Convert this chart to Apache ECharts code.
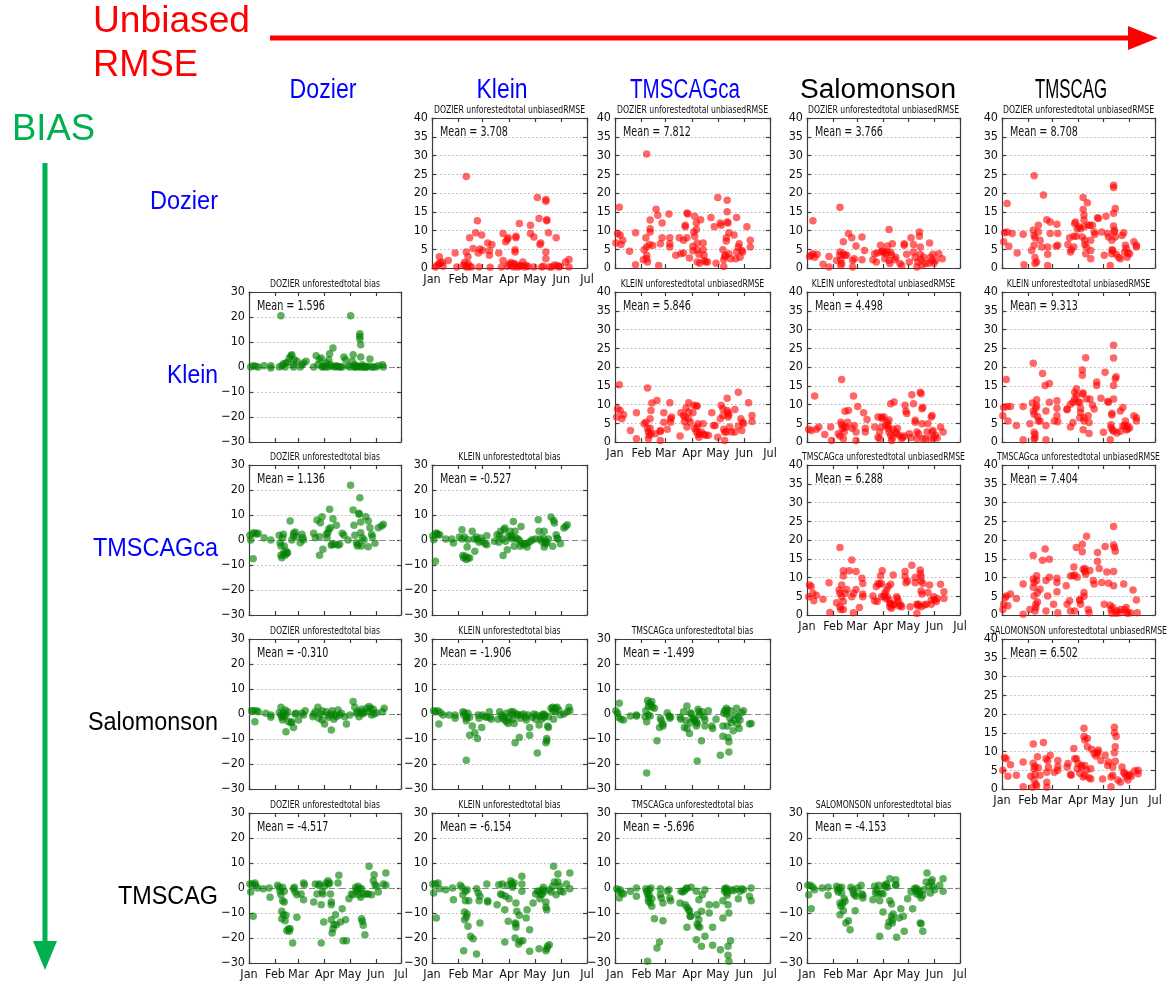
<!DOCTYPE html>
<html>
<head>
<meta charset="utf-8">
<script src="https://cdn.jsdelivr.net/npm/echarts@6/dist/echarts.min.js"></script>
<style>
html,body{margin:0;padding:0;background:#fff;}
#chart{width:1168px;height:982px;}
</style>
</head>
<body>
<div id="chart"></div>
<script>
// ---- names and axis ticks ----
const methodTitles = ['DOZIER', 'KLEIN', 'TMSCAGca', 'SALOMONSON', 'TMSCAG'];
const methodNames = ['Dozier', 'Klein', 'TMSCAGca', 'Salomonson', 'TMSCAG'];
const monthDays = [0, 31, 59, 90, 120, 151, 181];           // day of year at month start
const monthLabels = ['Jan', 'Feb', 'Mar', 'Apr', 'May', 'Jun', 'Jul'];
const rmseRange = [0, 40, 5];
const biasRange = [-30, 30, 10];

// ---- grid cells: [row, column] ----
const rmseCells = [[0,1],[0,2],[0,3],[0,4],[1,2],[1,3],[1,4],[2,3],[2,4],[3,4]];
const biasCells = [[1,0],[2,0],[2,1],[3,0],[3,1],[3,2],[4,0],[4,1],[4,2],[4,3]];
const rmseMeans = [3.708, 7.812, 3.766, 8.708, 5.846, 4.498, 9.313, 6.288, 7.404, 6.502];
const biasMeans = [1.596, 1.136, -0.527, -0.310, -1.906, -1.499, -4.517, -6.154, -5.696, -4.153];

// ---- unbiased RMSE samples: [day of year, value] ----
const rmseDozierVsKlein = [[4,0.3],[6,0.7],[8,1.2],[8.5,3],[10,1.3],[12,1.6],[13,0.5],[19,2],[27,4],[29,0.3],[37,0.8],[38,1.5],[39,0.5],[40,24.4],[40,4.3],[41,0.2],[42,3],[42,1.2],[44,8.1],[44,0.5],[46,0.3],[48,5.2],[51,9.4],[53,12.6],[54,4],[55,0.3],[56,5.1],[58,8.8],[59,4.7],[65,6.7],[67,4.7],[67,3.4],[68,0.2],[70,6.3],[78,4],[81,0.3],[83,9.2],[83,2],[86,7],[88,7.6],[89,8.1],[90,1],[94,1],[95,0.3],[97,4.9],[97,4.3],[98,8.1],[98,8.5],[100,0.3],[102,11.9],[104,0.7],[106,1.6],[108,0.3],[110,0.7],[115,11.4],[115,9.2],[119,8.3],[119,0.3],[123,18.8],[125,13.2],[126,6.3],[127,6.7],[128,0.3],[133,18.3],[133,17.8],[134,12.9],[134,12.6],[133,4.3],[133,2.5],[136,9.4],[137,0.3],[140,0.3],[145,8.1],[146,0.7],[148,0.3],[156,1.6],[160,2.3],[160,0.3],[88,0.5],[92,1.5],[96,1.2],[99,0.8],[103,0.5],[112,0.4],[130,0.5],[150,0.5],[143,0.8]];
const rmseDozierVsTMSCAGca = [[1,6.7],[3,9.2],[5,16.2],[6,8.8],[7,6.3],[9,7.4],[17,4.5],[24,9.4],[24,0.9],[33,2.2],[34,4.9],[37,30.4],[36,8.1],[37,5.6],[37,3.4],[37,2.5],[38,1.6],[40,6.3],[41,12.8],[41,10.5],[41,9.6],[44,6],[48,15.7],[50,14.1],[51,0.7],[53,6.5],[55,12],[55,8.1],[63,14.4],[64,8.1],[64,6.5],[64,5.6],[71,3.4],[75,8.1],[77,3.8],[80,7.4],[80,4],[82,11.4],[82,11],[84,8.1],[84,14.7],[85,14.4],[87,2.7],[91,5.8],[91,4.6],[92,9.6],[93,13.8],[93,8.5],[95,12],[95,10.3],[96,6.7],[96,4.9],[96,1.6],[98,3.7],[99,1.3],[100,12.9],[103,6.7],[103,4.9],[104,3.4],[104,2],[106,1.6],[108,1.6],[112,13.5],[116,11],[120,18.8],[118,1.3],[123,12],[124,11.4],[126,4.9],[127,2.2],[127,0.4],[128,3.1],[129,3.4],[130,8.1],[130,7.2],[131,18.1],[131,15],[131,12.3],[132,12],[133,9.4],[133,3.8],[135,2.5],[139,8.8],[142,13.5],[141,2.5],[142,4.3],[144,5.6],[145,6.5],[146,2.9],[148,4.7],[149,4.3],[154,11],[158,7.4],[158,5.6]];
const rmseDozierVsSalomonson = [[3,3.1],[5,3.4],[7,12.6],[7,3.8],[9,2.9],[12,3.7],[19,1],[26,3.1],[26,0.3],[35,2],[39,16.2],[39,4.3],[39,3.4],[40,2.2],[40,0.7],[41,1.2],[43,7],[43,3.8],[45,3.4],[47,3.4],[49,9.2],[53,8.1],[54,0.3],[54,2],[56,2.5],[58,5.9],[65,8.3],[65,2.2],[68,4.7],[78,2.2],[80,3.8],[82,1.6],[83,4],[87,6.1],[88,4.3],[91,4.3],[93,3.8],[95,5.9],[95,4.3],[97,10.3],[97,2],[98,1.2],[101,6.5],[104,2.2],[105,2.9],[110,1.2],[112,0.7],[115,6.1],[115,6.5],[118,3.7],[121,1.6],[123,8.1],[126,6.3],[126,4.3],[128,2.9],[130,0.3],[131,1.6],[133,9.6],[133,8.5],[134,5.6],[134,3.7],[135,2.2],[136,0.7],[138,2.9],[140,1.2],[144,1.3],[145,6.7],[146,2.9],[148,2],[149,3.7],[150,1.3],[152,2],[156,3.8],[160,2.5],[89,4.5],[92,2.5],[99,4.2],[100,3.5]];
const rmseDozierVsTMSCAG = [[2,7],[3,9.4],[6,17.2],[6,9.6],[8,5.8],[12,9.2],[18,4],[25,9],[26,0.9],[35,4.7],[38,24.6],[37,10.1],[38,8.7],[38,6.1],[39,8.1],[39,2.8],[39,1.2],[41,1.6],[43,11.4],[43,9.6],[45,7.4],[47,5.6],[49,19.5],[53,12.9],[54,5.6],[54,3.7],[54,0.7],[57,12.3],[57,9.2],[64,5.8],[65,11.7],[66,9.2],[66,6.1],[78,6.3],[80,8.1],[81,4.3],[82,4.9],[85,8.5],[85,5.6],[86,11.9],[87,12.3],[88,8.5],[89,10.5],[91,11],[93,10.5],[95,8.3],[96,18.8],[96,15.6],[97,14.1],[97,12.8],[97,11],[98,7.4],[98,6.3],[99,3.8],[100,5.6],[101,17.4],[102,11.4],[104,11.4],[105,7.4],[105,4.7],[105,2.5],[107,11.4],[109,9.6],[110,9],[113,13.4],[114,13.2],[118,9.6],[121,3.4],[123,13.8],[125,9.2],[126,8.3],[128,0.7],[130,4.9],[130,3.8],[130,7.4],[131,4.7],[132,22.1],[132,21.5],[132,14.6],[132,11.2],[133,10.1],[133,9.6],[134,15.9],[134,8.3],[135,3.7],[138,2.9],[140,2.5],[142,8.7],[144,9.4],[145,4.3],[146,6.1],[147,5.2],[148,2.9],[149,4],[151,3.8],[156,7],[159,6.1],[159,5.6]];
const rmseKleinVsTMSCAGca = [[2,6.7],[3,8.9],[5,15.3],[6,8.4],[8,6.2],[10,7.3],[18,3.1],[25,0.9],[25,7.8],[34,4.9],[36,5.3],[38,14.4],[38,3.6],[39,2.7],[39,0.9],[40,1.8],[41,3.7],[41,6.2],[42,8.4],[43,10.4],[42,2.2],[47,2.2],[49,11.1],[53,0.4],[53,3.1],[53,2.8],[57,7.8],[57,5.3],[61,3.4],[64,10.5],[65,6.2],[65,5.3],[66,6.7],[76,1.6],[77,7.8],[80,7.1],[81,5.5],[82,6.7],[83,9.1],[84,4],[86,10.5],[86,8],[86,6.2],[88,5.3],[91,7.8],[92,9.8],[93,3.6],[95,9.6],[95,2.8],[96,9.6],[96,4],[97,4.9],[97,2],[98,1.3],[99,2.2],[101,2.7],[103,4.9],[104,2],[106,1.8],[109,1.8],[113,7.8],[115,4.4],[117,4.4],[120,1.3],[123,6.2],[124,9.8],[126,7.1],[126,8.9],[127,3.4],[128,0.4],[128,2.7],[130,2.7],[131,11.7],[131,8.4],[132,7.8],[132,6.7],[133,7.3],[134,4],[136,2.7],[140,8.7],[140,2.7],[144,13.3],[144,4.3],[147,6.2],[148,3.1],[149,5.3],[150,4.9],[156,10.5],[160,7.1],[160,5.5]];
const rmseKleinVsSalomonson = [[2,3.4],[5,3.1],[9,12.3],[11,3.4],[14,4],[21,2],[28,4],[29,0.4],[37,2.2],[39,1.6],[40,5.3],[41,16.7],[41,4.6],[42,3.6],[43,0.9],[44,2.7],[44,4],[45,8.2],[46,4],[48,5.3],[49,8.4],[53,3.7],[55,12.3],[56,4.4],[58,2.7],[58,0.4],[60,9.5],[67,7.8],[69,3.7],[69,2.7],[71,6],[80,4],[84,6.7],[84,1.3],[86,0.9],[86,2.7],[88,6.7],[88,4],[89,6.2],[91,6.7],[93,4.4],[95,5.3],[96,4.4],[96,3.6],[97,5.9],[97,2.7],[99,10.2],[99,1.8],[100,0.4],[101,1.1],[102,3.4],[103,10.7],[105,2.7],[106,2.2],[107,3.7],[109,1.8],[112,0.9],[113,1.3],[115,1.6],[116,9.8],[117,8.2],[118,7.6],[121,2.2],[123,1.2],[124,12.6],[126,10.2],[128,5.8],[128,5.3],[130,2.7],[130,0.9],[132,2.2],[134,13.3],[135,12.9],[136,8.9],[137,9.3],[136,4.9],[137,0.9],[140,0.9],[142,2.7],[143,4.9],[146,0.9],[147,6.7],[148,7.1],[148,2.7],[149,3.1],[150,1.1],[152,1.8],[154,1.1],[158,4],[161,2.7]];
const rmseKleinVsTMSCAG = [[1,7],[2,9.2],[5,16.7],[6,9.5],[7,5.6],[10,9.5],[17,4.4],[25,9.5],[25,0.6],[33,4.9],[36,10.4],[37,21],[37,8.3],[38,7.4],[38,2.6],[38,0.8],[39,2],[39,1.1],[40,9],[41,11.3],[41,9.7],[42,6.8],[43,5.6],[45,5.6],[48,18.3],[51,15.1],[52,8.3],[52,4.4],[52,0.6],[56,15.6],[56,10.6],[62,5.6],[65,11],[65,9],[65,7],[66,5.4],[77,8.8],[77,8.6],[81,10.1],[81,4],[84,10.6],[84,5.2],[86,11.5],[86,13.3],[88,14.2],[88,12.4],[90,10.6],[92,6.5],[92,10.6],[93,7.9],[93,9],[95,17.8],[95,19.2],[95,12.8],[96,3.3],[96,13.1],[97,6.5],[97,5.6],[99,22.5],[100,11.5],[102,7],[103,5.2],[103,2.3],[104,11.5],[107,9.9],[109,8.8],[112,16],[112,15.1],[117,11.7],[120,2.6],[122,18.6],[125,10.8],[126,10.6],[128,0.6],[129,4.6],[129,3.8],[130,7.7],[130,7.2],[131,3.2],[132,25.8],[132,22.4],[132,11.5],[132,15.1],[132,2.9],[134,16.9],[135,17.4],[136,2.4],[140,2.9],[140,8.3],[143,9.2],[143,4.3],[145,4.4],[146,5.6],[147,3.2],[148,4.4],[149,3.5],[151,3.8],[156,7],[159,6.5],[159,5.6]];
const rmseTMSCAGcaVsSalomonson = [[2,4.9],[3,8],[5,7.6],[7,5.8],[8,3.8],[11,5.3],[19,4.2],[27,0.7],[26,8.6],[35,3.3],[39,18],[38,6.7],[39,2.2],[39,5.8],[40,1.5],[41,4.9],[41,8],[43,3.6],[43,1.5],[43,10.4],[43,11.8],[45,5.8],[47,6.8],[50,11.8],[53,14.7],[53,4.9],[55,0.6],[55,5.8],[58,6.8],[58,11.6],[62,2],[65,9.8],[66,8.4],[66,5.6],[66,4.9],[78,5.1],[80,3.8],[82,7.6],[83,3.6],[84,8.4],[86,8.2],[87,10.4],[88,4.9],[88,8.4],[89,11.8],[91,5.1],[92,5.8],[93,4.4],[94,6.7],[95,4.9],[96,7.6],[97,4],[98,3.1],[98,2.2],[99,8.2],[99,3.1],[100,1.8],[102,10.7],[102,2.7],[103,2.9],[106,4.9],[107,4.4],[108,3.6],[109,2.4],[111,2.7],[112,2.2],[116,11.6],[116,10.2],[117,8.6],[119,9.1],[122,2.2],[124,13.3],[128,10],[128,8.6],[130,0.4],[130,2.9],[131,2.4],[132,2.9],[134,11.1],[134,12],[135,10.2],[135,9.1],[135,6.4],[136,5.6],[135,2.2],[137,8.4],[139,2.7],[141,2.9],[143,6],[145,8],[147,4],[147,2.9],[150,4.9],[151,4],[153,3.6],[154,4.4],[158,8.2],[162,6.2],[162,4.4]];
const rmseTMSCAGcaVsTMSCAG = [[1,1.5],[2,2.9],[4,4.7],[5,5.1],[7,2.5],[10,5.6],[17,4.4],[25,8.3],[25,0.2],[33,1.5],[37,15.9],[37,9.6],[37,7.4],[38,8.7],[38,5.1],[39,1.1],[40,2.9],[40,2],[41,10.5],[41,9.2],[42,6],[42,3.5],[45,6.9],[48,14.6],[51,17.6],[52,9.2],[52,1.1],[54,5.1],[56,14.9],[56,10.1],[61,2.9],[65,9.8],[65,8.7],[65,6.2],[66,0.6],[76,7.8],[77,2.9],[80,3.8],[81,10.4],[81,1.1],[84,10.5],[85,12.8],[86,10.7],[86,1.1],[88,18],[89,10.1],[92,4.2],[92,3.8],[93,2.9],[95,18.9],[95,16.9],[96,12.2],[97,6],[97,5],[98,12.4],[98,11.6],[99,10.9],[100,21],[102,1.5],[103,0.6],[104,11.9],[108,9.2],[109,8.3],[113,16.7],[113,14.3],[115,12.4],[118,8.7],[121,2.9],[122,18.3],[124,11.5],[126,8.5],[128,2.6],[129,1.5],[130,0.5],[131,2],[132,23.6],[132,18.7],[132,11.6],[132,7.8],[133,18],[134,17],[135,0.5],[136,1.1],[139,0.6],[140,1.5],[144,8.3],[145,1.5],[147,0.6],[147,2],[149,0.5],[152,0.6],[155,6.7],[159,4],[160,0.6]];
const rmseSalomonsonVsTMSCAG = [[1,5],[3,8.4],[5,8.1],[7,3.4],[10,6.5],[17,3.7],[25,7.2],[25,0.6],[34,3.4],[36,0.5],[37,12],[37,6.9],[38,5.4],[38,2.4],[39,6],[39,3.9],[40,1.3],[41,0.8],[42,8.6],[43,5.7],[45,3.7],[49,12.4],[52,8.1],[53,4.5],[53,1.8],[53,0.5],[54,7.6],[55,5.8],[57,9],[62,4.5],[66,6],[66,7.6],[66,5],[77,5.9],[78,6.8],[81,3.9],[82,3.7],[85,10.8],[86,8.1],[88,8.1],[89,5.4],[90,6.8],[92,4.2],[94,5.9],[94,6.3],[96,3.2],[97,16.2],[97,14],[98,6.3],[98,13.1],[98,3.7],[100,5.1],[101,11.3],[101,13.5],[103,3],[105,5.4],[105,2.7],[106,10.6],[109,9.5],[111,8.8],[113,9.9],[113,9.5],[114,10.4],[117,7.6],[119,2.7],[122,9],[125,6.3],[126,7.2],[129,0.6],[129,3.2],[131,5.9],[131,3.7],[133,9.7],[133,16.5],[133,15],[134,11.3],[134,7.4],[135,14],[137,2.4],[140,1.8],[142,5.9],[144,4.5],[145,4.1],[147,3.2],[149,2.4],[149,3.7],[151,3.9],[153,3.4],[157,4.9],[161,4.1],[161,5]];

// ---- bias samples: [day of year, value] ----
const biasDozierVsKlein = [[2,0],[5,0.5],[8,0.3],[11,0],[18,0.5],[26,0.5],[26,-0.4],[36,0],[38,20.5],[39,0.5],[41,1.3],[43,0],[44,1.6],[46,1.9],[48,3.6],[50,4.5],[51,4.9],[53,0],[53,0.9],[54,2.9],[57,2.3],[61,0],[63,0.9],[65,1.6],[68,2.3],[77,0],[80,4.5],[82,0.9],[84,2.9],[86,3.6],[87,0],[90,0.5],[92,1.6],[94,0],[95,2.9],[96,5.3],[97,0.9],[100,7.6],[102,0],[104,0.5],[107,0],[111,0],[113,4],[115,2.9],[118,0.5],[120,0],[121,20.5],[123,2.3],[124,4.9],[126,0.9],[127,0],[129,0.3],[132,12.3],[132,13.3],[132,11.2],[133,8.9],[133,4],[134,0],[135,0.9],[137,0],[139,0],[142,0.3],[144,3.2],[146,0],[148,0],[151,0],[154,0.5],[159,0.9],[160,0],[88,0.2],[91,0],[99,0.3],[105,0.2],[109,0.1],[125,0],[128,0.2],[131,0],[136,0.2],[140,0]];
const biasDozierVsTMSCAGca = [[1,1.9],[2,0],[4,2.7],[5,-7.5],[7,2.9],[9,2.3],[11,2.7],[18,0.9],[26,0],[36,1.9],[37,-1.1],[38,-2.4],[38,-6.1],[39,-7.1],[40,0.9],[41,2.3],[41,-5.3],[42,-2.4],[43,-6.1],[44,-4.4],[45,-5.3],[46,-5.1],[49,7.6],[51,0],[53,1.6],[53,2.7],[55,3.2],[57,1.3],[61,-1.1],[63,2.3],[64,0.9],[65,0],[77,2.7],[79,0.9],[81,8],[84,1.3],[84,-6.1],[85,6.9],[87,9.3],[88,-3.7],[92,2.3],[93,0.9],[94,2.9],[95,4.3],[96,12.3],[97,4.9],[98,-2.1],[99,-1.7],[100,8.5],[102,-1.7],[104,5.9],[106,-2.1],[108,-1.7],[111,2.7],[113,1.9],[118,0],[121,21.9],[124,12],[125,5.9],[126,1.9],[128,-1.1],[129,-2.4],[130,-1.7],[131,10.7],[131,10.3],[132,16.9],[133,7.2],[133,2.9],[134,-2.4],[135,0.9],[137,0],[139,9.3],[142,-2.7],[142,7.6],[144,4.9],[146,2.3],[147,1.3],[150,-1.3],[154,4.9],[158,5.6],[160,6.3]];
const biasKleinVsTMSCAGca = [[1,1.7],[2,0.1],[4,-8.5],[5,2.8],[6,2.5],[7,2.1],[9,2.1],[16,0.4],[23,0.4],[25,-1.2],[32,1.2],[35,4.1],[35,0.4],[36,-6.2],[37,-7.2],[38,1.2],[39,-6.5],[40,-7.8],[41,-2.8],[42,0.1],[42,-7.2],[44,-7.2],[47,3.5],[49,0.4],[50,-4.5],[52,1.2],[53,0.1],[55,-0.9],[57,0.8],[59,-0.5],[62,-1.5],[64,1.7],[64,-1.9],[73,-0.5],[76,2.1],[78,-0.9],[79,1.7],[80,3.5],[82,0.4],[83,-6.2],[84,4.1],[85,4.8],[86,-0.5],[88,-3.9],[89,1.5],[91,3.5],[92,1.2],[93,1.7],[94,0.4],[95,7.4],[96,-2.5],[97,3.5],[98,0.8],[100,0.4],[102,-0.1],[103,-2.5],[104,5.4],[104,-1.2],[107,-1.9],[109,-1.5],[111,-2.8],[112,-1.2],[115,-0.5],[117,0.1],[121,0.4],[124,8.1],[125,3.5],[126,0.4],[128,-0.5],[130,0.8],[131,-2.8],[131,3.5],[132,-1.5],[133,-0.5],[134,-1.2],[136,0.4],[139,9.2],[141,-2.5],[142,7.8],[143,6.8],[145,2.1],[146,0.8],[147,0.4],[150,-1.5],[154,4.8],[156,5.4],[158,6.1]];
const biasDozierVsSalomonson = [[3,1.3],[5,1.3],[7,-3.1],[9,1.3],[11,0.9],[20,0.3],[26,-0.4],[26,-1.3],[36,0.5],[38,2.7],[38,-0.4],[39,-1.3],[40,-2.4],[41,0.3],[42,-1.1],[43,1.6],[44,-7.1],[44,-0.4],[46,0.9],[47,-3.1],[50,-3.5],[51,-3.1],[53,-5.4],[55,0],[56,0.3],[59,-2.4],[63,0.3],[65,-0.4],[67,1.3],[76,-1.1],[77,0],[79,0.9],[82,2.7],[83,-1.7],[85,0],[87,-2.4],[87,1.3],[90,-4],[92,0.9],[94,-0.4],[95,-1.3],[98,0],[98,-6.4],[99,1.3],[101,-2.1],[102,-0.4],[104,-1.1],[106,1.6],[108,-0.4],[110,0.3],[114,-1.1],[116,-4],[120,-0.4],[124,5],[126,2.7],[128,0.3],[129,0.9],[131,-1.1],[133,0.9],[134,1.9],[135,0],[137,0.5],[140,2.3],[142,0.9],[143,3],[145,2.3],[146,-0.4],[148,1.9],[149,0],[152,0.5],[159,0.9],[161,2.3]];
const biasKleinVsSalomonson = [[2,1.3],[4,0.9],[7,1.3],[8,-4],[10,0.5],[13,-0.4],[20,-0.4],[27,-0.4],[27,-1.7],[36,0.9],[37,-0.4],[38,0.5],[40,-1.7],[40,-18.5],[40,-2.7],[41,-1.1],[42,0.3],[44,-8.5],[44,-1.3],[47,-4.8],[50,-7.5],[53,-9.8],[54,-0.4],[55,-1.7],[58,-5.4],[59,-0.4],[62,-1.1],[64,-1.3],[67,0.9],[68,-1.3],[69,-2.1],[77,-2.1],[79,0.9],[81,-0.4],[82,-1.7],[84,-1.1],[85,-2.4],[87,-3.1],[87,0.3],[89,-3.8],[90,-1.7],[92,0.9],[94,0],[94,-2.1],[95,0.9],[96,-3.8],[97,-11.5],[99,0],[100,-0.4],[102,-9.4],[103,-1.7],[104,-0.4],[107,0],[109,-1.3],[110,-2.4],[112,-0.4],[114,-8.5],[114,-5.4],[117,-1.3],[119,0],[121,-2.1],[122,-0.4],[123,-15.6],[125,-4.4],[126,-1.1],[128,-2.1],[129,-0.4],[130,0],[131,-1.3],[132,-0.4],[133,-11.5],[134,-9.8],[134,-10.7],[135,-4.8],[136,-5.4],[136,-1.1],[139,2.3],[141,2.7],[141,1.3],[142,-2.1],[144,2.3],[144,0.9],[146,2.7],[148,1.6],[150,-0.4],[154,0],[158,0.9],[160,2.7],[161,1.3]];
const biasTMSCAGcaVsSalomonson = [[1,1.3],[3,0.3],[4,-1.3],[5,4.3],[7,-2.1],[10,-2.4],[18,-0.8],[25,-0.4],[25,-0.8],[35,-1.1],[36,1.3],[37,-3.1],[37,-23.6],[38,5.4],[39,3],[39,-0.4],[40,4.3],[41,-0.8],[42,3.6],[43,5],[44,2.7],[46,2.3],[49,-10.7],[52,-5.4],[53,-1.7],[54,-2.7],[56,-4],[56,-4.8],[61,0.5],[63,-0.8],[64,-1.7],[65,-1.1],[76,-1.3],[77,-2.1],[80,0.9],[81,-5.4],[83,-2.7],[84,3.2],[84,-5.8],[87,-7.8],[88,-3.5],[88,0.5],[89,0],[91,-1.7],[92,-2.1],[93,-2.4],[95,-3.1],[95,-4.8],[96,-3.8],[96,-18.8],[97,1.9],[98,0.9],[99,-0.4],[101,-10.7],[102,0.9],[104,-1.1],[105,-2.4],[105,-4.8],[109,1.3],[113,-4.8],[114,-5.8],[118,-2.1],[123,-16.5],[126,-8.9],[126,-4.8],[127,0.3],[128,1.3],[130,2.3],[130,0],[131,1.6],[131,-4.8],[132,-9.4],[133,-11.1],[133,-15.2],[134,-1.7],[135,1.3],[136,-3.5],[138,-6.7],[139,-2.4],[141,-0.4],[142,2.3],[143,-4],[144,-1.3],[145,-5.8],[146,-2.4],[148,0.5],[150,1.3],[157,-4],[159,-3.8]];
const biasDozierVsTMSCAG = [[1,1.6],[2,-1.6],[4,1.6],[5,-11.3],[7,2],[8,1.1],[10,0],[17,-0.3],[24,0],[25,-3.7],[34,1.1],[36,0.3],[37,-1.3],[38,-2.7],[39,-9.3],[39,-12.3],[40,0.3],[40,-5.1],[41,-10.7],[42,-1.3],[43,-13.1],[42,-5.6],[44,-10.9],[45,-17.1],[47,-16.3],[48,-17.3],[49,-16.3],[52,-22],[53,-0.3],[54,0.3],[55,-1.6],[57,-11.7],[57,-2.7],[62,-2.4],[65,-4.7],[65,2],[66,1.3],[77,-5.6],[79,1.6],[81,-2.4],[83,1.1],[84,1.6],[86,-6.7],[86,-22],[87,-1.6],[88,-2.4],[89,-13.6],[90,0.7],[92,2],[94,2.9],[95,1.6],[96,2],[97,-2.4],[98,-5.6],[98,-12.7],[99,-18],[98,-6.7],[100,-16.3],[101,-14.7],[103,-10.7],[104,-14.7],[106,2],[107,5.1],[109,-13.6],[111,-8.3],[112,-21.1],[115,-12.7],[116,-21.1],[119,-4.3],[122,-2.4],[124,-2.7],[127,0.3],[128,-0.7],[129,-1.3],[130,0.7],[131,-2.7],[132,-0.3],[133,-3.7],[134,-0.3],[134,-12.3],[135,-13.3],[136,-14.9],[137,-2.4],[138,-18.7],[140,-2.4],[142,-2.4],[143,8.7],[146,-2.7],[148,2.9],[149,5.3],[150,1.3],[152,0.7],[154,-1.6],[160,1.6],[163,6],[163,1.1]];
const biasKleinVsTMSCAG = [[1,1.6],[2,-2],[4,1.6],[5,-12],[7,2],[9,-0.3],[16,-0.7],[24,0],[25,-4.7],[33,1.1],[35,0.3],[36,-2.7],[37,-25.1],[38,-9.6],[38,-12.7],[39,-5.1],[39,-1.3],[40,-11.7],[41,-10.4],[41,-0.7],[42,-15.3],[43,-5.1],[45,-19.3],[48,-20.3],[52,-0.3],[52,-26.4],[54,-2],[55,-5.1],[56,-14],[56,-3.3],[64,1.6],[65,-5.1],[65,-5.6],[76,-6.7],[78,1.3],[80,-2.4],[82,1.6],[82,-2.7],[85,-21.6],[85,-8.7],[86,-3.3],[88,1.1],[89,-13.3],[90,-4.3],[92,2.9],[93,2],[94,1.1],[94,0.3],[96,2],[97,-14],[97,-20],[98,-14.4],[98,-6],[98,-15.7],[99,-9.3],[101,-22.4],[102,-10.9],[103,-21.3],[105,1.6],[105,4.7],[105,-1.3],[106,-21.1],[110,-12],[111,-8.7],[114,-25.3],[114,-16.7],[118,-6],[121,-2.4],[123,-1.3],[125,-24.3],[125,-1.3],[126,-4.3],[127,-2.7],[129,-0.7],[129,-2.4],[130,0.3],[131,-1.3],[133,-5.6],[133,-7.7],[134,-8.7],[133,-25.1],[134,-24.3],[135,-23.3],[137,-22.7],[137,-0.7],[139,-1.6],[141,0.7],[143,2.4],[142,8.7],[145,-2.7],[147,5.6],[147,2.4],[149,0.7],[150,-1.3],[153,-1.6],[157,1.6],[161,6],[161,-0.3]];
const biasTMSCAGcaVsTMSCAG = [[2,-0.3],[4,-1.3],[5,-4],[6,-0.7],[8,-2],[10,-2.4],[18,-1.3],[25,0],[25,-3.3],[36,-0.3],[37,-1.3],[38,-29.3],[38,-2.4],[39,-4],[39,-5.3],[40,-0.7],[40,-2.9],[41,-6],[42,0],[43,-4.3],[43,-7.3],[46,-12.3],[49,-24],[52,-21.6],[53,-0.3],[53,-2.7],[54,-4],[56,-6],[56,-13.1],[61,-1.3],[63,-0.7],[64,-4],[65,-5.1],[76,-6],[77,-1.3],[79,-1.6],[81,-1.1],[82,-6.7],[83,-0.3],[84,0],[84,-7.7],[84,-15.7],[86,-8.7],[87,-9.3],[88,-11.3],[88,-11.3],[89,0.3],[95,-1.3],[95,-20.7],[96,-10.7],[96,-14.4],[97,-15.3],[98,-12.7],[98,-4.7],[99,-15.7],[101,-23.3],[101,-9.3],[102,-2.7],[105,-0.7],[105,-19.3],[110,-6.7],[110,-10],[114,-15.7],[114,-22.9],[118,-6.7],[123,-24.7],[126,-5.1],[126,-12],[128,-0.3],[128,-1.3],[130,-0.7],[130,0],[131,-2],[131,-2.9],[132,-6.7],[132,-23.3],[132,-26.9],[133,-29.3],[133,-10],[135,-21.1],[136,-0.7],[138,-1.1],[142,-0.3],[144,-4.3],[146,-1.3],[148,-0.3],[150,-0.7],[157,-3.3],[159,-5.1],[159,0]];
const biasSalomonsonVsTMSCAG = [[1,1.1],[2,-2.7],[4,1.1],[5,-8.3],[7,0.3],[9,-0.7],[18,0],[25,0.3],[25,-2.9],[35,0.7],[36,-0.7],[37,-1.6],[38,0],[39,-6],[39,-10.7],[40,-7.3],[41,-2],[41,0.3],[42,-6.4],[43,-9.1],[44,-4.3],[45,-5.3],[46,-14],[49,-13.1],[51,-16.7],[52,0.3],[54,-0.7],[55,-2],[56,-2.7],[57,-9.1],[58,-3.3],[60,0],[64,1.1],[65,-2.4],[66,-4],[66,-2.9],[78,-4.7],[80,0.7],[81,-2],[82,-0.7],[84,-2.4],[85,1.1],[86,-19.3],[86,-5.1],[88,-2],[90,-9.6],[90,-2.4],[92,1.1],[93,0.7],[94,1.6],[95,0.3],[96,-15.3],[97,-13.6],[98,3.7],[98,-5.1],[100,-11.3],[100,-6.4],[101,-12.7],[101,-14],[102,-10.4],[105,3.3],[105,1.1],[105,1.3],[106,-19.7],[109,-12],[111,-8.3],[114,-11.3],[115,-17.3],[119,-4.3],[123,-1.6],[125,-8.3],[127,-0.3],[129,-1.3],[129,0],[130,-2.4],[131,-0.7],[133,-2.7],[133,-1.6],[134,-14],[135,-14.3],[135,-4],[137,-2.9],[137,-17.3],[138,-0.7],[141,2.4],[142,6],[144,0.7],[146,-2],[147,2.4],[148,3.3],[149,0.7],[151,-0.7],[157,1.1],[161,3.7],[161,-1.3]];

const rmseSeries = [rmseDozierVsKlein, rmseDozierVsTMSCAGca, rmseDozierVsSalomonson, rmseDozierVsTMSCAG,
  rmseKleinVsTMSCAGca, rmseKleinVsSalomonson, rmseKleinVsTMSCAG,
  rmseTMSCAGcaVsSalomonson, rmseTMSCAGcaVsTMSCAG, rmseSalomonsonVsTMSCAG];
const biasSeries = [biasDozierVsKlein, biasDozierVsTMSCAGca, biasKleinVsTMSCAGca,
  biasDozierVsSalomonson, biasKleinVsSalomonson, biasTMSCAGcaVsSalomonson,
  biasDozierVsTMSCAG, biasKleinVsTMSCAG, biasTMSCAGcaVsTMSCAG, biasSalomonsonVsTMSCAG];

// ---- layout ----
const colLeft = [249, 432, 615, 807, 1002];
const colWidth = [152, 155, 155, 153, 153];
const rowTop = [118, 292, 465, 639, 813];
const plotH = 150;
const frameColor = '#3c3c3c';
const axisFont = "'Liberation Sans Narrow', 'DejaVu Sans Condensed', 'Liberation Sans', sans-serif";
const plotFont = "'DejaVu Sans'";
const headFont = "'Liberation Sans'";
const BLUE = '#0000ff', RED = '#ff0000', GREEN = '#00b050';

const measureCtx = document.createElement('canvas').getContext('2d');
function textWidth(str, font) { measureCtx.font = font; return measureCtx.measureText(str).width; }
// squeeze factor for the in-plot captions (panel titles, mean labels)
const titleSqueeze = 151 / textWidth('DOZIER unforestedtotal unbiasedRMSE', '10px ' + plotFont);
const meanSqueeze = 68 / textWidth('Mean = 3.708', '13.5px ' + plotFont);

function minusSign(v) { return v < 0 ? '\u2212' + Math.abs(v) : String(v); }

const panels = [];
rmseCells.forEach((c, i) => panels.push({ row: c[0], col: c[1], kind: 'rmse', data: rmseSeries[i], mean: rmseMeans[i],
  title: methodTitles[c[0]] + ' unforestedtotal unbiasedRMSE' }));
biasCells.forEach((c, i) => panels.push({ row: c[0], col: c[1], kind: 'bias', data: biasSeries[i], mean: biasMeans[i],
  title: methodTitles[c[1]] + ' unforestedtotal bias' }));

const grids = [], xAxes = [], yAxes = [], series = [], graphics = [];
const occupied = new Set(panels.map(p => p.row + ',' + p.col));

panels.forEach((p, k) => {
  const left = colLeft[p.col], top = rowTop[p.row], w = colWidth[p.col];
  const range = p.kind === 'rmse' ? rmseRange : biasRange;
  const showX = !occupied.has((p.row + 1) + ',' + p.col);
  grids.push({ left: left, top: top, width: w, height: plotH, containLabel: false, outerBoundsMode: 'none' });

  const lineStyle = { color: frameColor, width: 1.2 };
  xAxes.push({
    type: 'value', gridIndex: k, min: 0, max: 181, position: 'bottom',
    axisLine: { show: true, onZero: false, lineStyle: lineStyle },
    axisTick: { show: true, inside: true, length: 4, customValues: monthDays, lineStyle: lineStyle },
    axisLabel: { show: showX, customValues: monthDays, hideOverlap: false, margin: 5,
      formatter: v => monthLabels[monthDays.indexOf(v)], fontSize: 12.5, color: '#111', fontFamily: axisFont },
    splitLine: { show: false }
  });
  xAxes.push({
    type: 'value', gridIndex: k, min: 0, max: 181, position: 'top',
    axisLine: { show: true, onZero: false, lineStyle: lineStyle },
    axisTick: { show: true, inside: true, length: 4, customValues: monthDays, lineStyle: lineStyle },
    axisLabel: { show: false }, splitLine: { show: false }
  });
  yAxes.push({
    type: 'value', gridIndex: k, min: range[0], max: range[1], interval: range[2], position: 'left',
    axisLine: { show: true, onZero: false, lineStyle: lineStyle },
    axisTick: { show: true, inside: true, length: 4, lineStyle: lineStyle },
    axisLabel: { margin: 4, fontSize: 12.5, color: '#111', fontFamily: axisFont, formatter: minusSign },
    splitLine: { show: true, lineStyle: { type: [1.5, 2.5], color: '#b4b4b4', width: 1 } }
  });
  yAxes.push({
    type: 'value', gridIndex: k, min: range[0], max: range[1], interval: range[2], position: 'right',
    axisLine: { show: true, onZero: false, lineStyle: lineStyle },
    axisTick: { show: true, inside: true, length: 4, lineStyle: lineStyle },
    axisLabel: { show: false }, splitLine: { show: false }
  });

  const s = {
    type: 'scatter', xAxisIndex: 2 * k, yAxisIndex: 2 * k, data: p.data, symbolSize: 7.5,
    itemStyle: { color: p.kind === 'rmse' ? 'rgba(255,0,0,0.75)' : 'rgba(0,128,0,0.78)' },
    silent: true, z: 3
  };
  if (p.kind === 'bias') {
    s.markLine = { silent: true, symbol: ['none', 'none'], label: { show: false },
      lineStyle: { type: [6, 4], color: '#8a8a8a', width: 1.2 }, data: [{ yAxis: 0 }], z: 2 };
  }
  series.push(s);

  graphics.push({ type: 'text', x: left + w / 2, y: top - 8, scaleX: titleSqueeze, z: 10,
    style: { text: p.title, font: '10px ' + plotFont, fill: '#111', align: 'center', verticalAlign: 'middle',
      textAlign: 'center', textVerticalAlign: 'middle' } });
  graphics.push({ type: 'text', x: left + 8, y: top + 14, scaleX: meanSqueeze, z: 10,
    style: { text: 'Mean = ' + p.mean.toFixed(3), font: '13.5px ' + plotFont, fill: '#111', align: 'left',
      verticalAlign: 'middle', textAlign: 'left', textVerticalAlign: 'middle' } });
});

// fitted heading text
function heading(str, x, y, size, color, width, align) {
  const font = size + 'px ' + headFont;
  const sx = width / textWidth(str, font);
  return { type: 'text', x: x, y: y, scaleX: sx, z: 10,
    style: { text: str, font: font, fill: color, align: align, verticalAlign: 'middle',
      textAlign: align, textVerticalAlign: 'middle' } };
}
const headColors = [BLUE, BLUE, BLUE, '#000', '#000'];
const colHeadX = [323, 502, 685, 878, 1071];
const colHeadW = [67, 51, 110, 156, 72];
const rowHeadY = [202, 376, 549, 723, 897];
const rowHeadW = [68, 51, 125, 130, 100];
methodNames.forEach((n, i) => {
  graphics.push(heading(n, colHeadX[i], 91, 27, headColors[i], colHeadW[i], 'center'));
  graphics.push(heading(n, 218, rowHeadY[i], 25, headColors[i], rowHeadW[i], 'right'));
});
graphics.push(heading('Unbiased', 93, 22, 36, RED, 157, 'left'));
graphics.push(heading('RMSE', 93, 66, 36, RED, 105, 'left'));
graphics.push(heading('BIAS', 12, 130, 36, GREEN, 83, 'left'));

// direction arrows
graphics.push({ type: 'line', shape: { x1: 270, y1: 38, x2: 1132, y2: 38 }, style: { stroke: RED, lineWidth: 5 } });
graphics.push({ type: 'polygon', shape: { points: [[1128, 26], [1158, 38], [1128, 50]] }, style: { fill: RED } });
graphics.push({ type: 'line', shape: { x1: 45, y1: 163, x2: 45, y2: 945 }, style: { stroke: GREEN, lineWidth: 5 } });
graphics.push({ type: 'polygon', shape: { points: [[33, 941], [45, 970], [57, 941]] }, style: { fill: GREEN } });

const chart = echarts.init(document.getElementById('chart'), null, { renderer: 'canvas' });
chart.setOption({
  animation: false,
  backgroundColor: '#fff',
  grid: grids,
  xAxis: xAxes,
  yAxis: yAxes,
  series: series,
  graphic: graphics
});
</script>
</body>
</html>
